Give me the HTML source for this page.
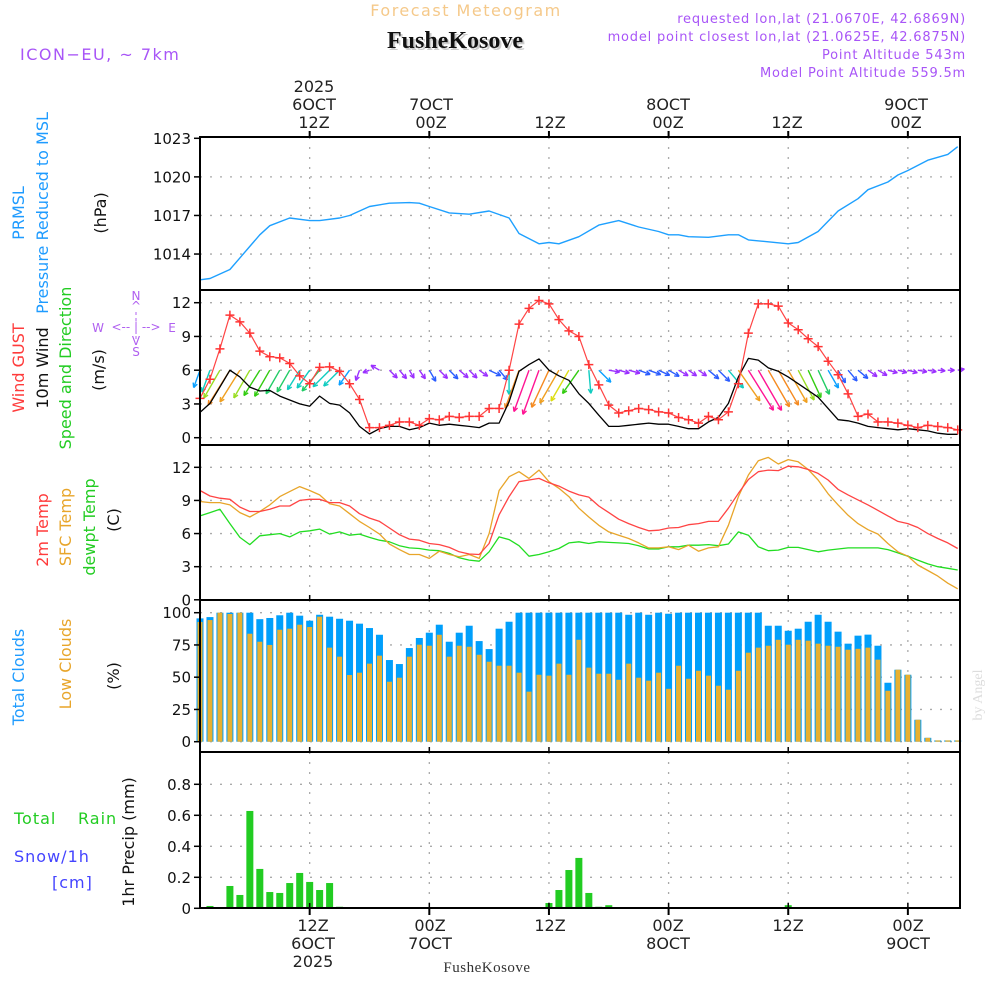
<!DOCTYPE html>
<html><head><meta charset="utf-8"><style>
html,body{margin:0;padding:0;background:#fff;}
svg{display:block;font-family:"DejaVu Sans","Liberation Sans",sans-serif;}
</style></head><body>
<svg id="chart" width="1000" height="1000" viewBox="0 0 1000 1000" xmlns="http://www.w3.org/2000/svg">
<rect x="0" y="0" width="1000" height="1000" fill="#fff"/>
<g id="texts">
<text x="466" y="16" text-anchor="middle" font-size="16" fill="#f5c98a" letter-spacing="1.5">Forecast Meteogram</text>
<text x="455" y="48" text-anchor="middle" font-size="24" font-weight="bold" font-family="Liberation Serif, serif" fill="#ccc" dx="2" dy="2">FusheKosove</text>
<text x="455" y="48" text-anchor="middle" font-size="24" font-weight="bold" font-family="Liberation Serif, serif" fill="#111">FusheKosove</text>
<text x="20" y="60" font-size="16" fill="#a855f7" letter-spacing="1.5">ICON−EU, ~ 7km</text>
<g font-size="13" fill="#a855f7" text-anchor="end" letter-spacing="0.8">
<text x="966" y="23">requested lon,lat (21.0670E, 42.6869N)</text>
<text x="966" y="41">model point closest lon,lat (21.0625E, 42.6875N)</text>
<text x="966" y="59">Point Altitude 543m</text>
<text x="966" y="77">Model Point Altitude 559.5m</text>
</g>
<g font-size="16" fill="#222" text-anchor="middle">
<text x="314" y="92">2025</text>
<text x="314" y="110">6OCT</text>
<text x="314" y="128">12Z</text>
<text x="431" y="110">7OCT</text>
<text x="431" y="128">00Z</text>
<text x="550" y="128">12Z</text>
<text x="668" y="110">8OCT</text>
<text x="668" y="128">00Z</text>
<text x="787" y="128">12Z</text>
<text x="906" y="110">9OCT</text>
<text x="906" y="128">00Z</text>
<text x="313" y="931">12Z</text>
<text x="313" y="949">6OCT</text>
<text x="313" y="967">2025</text>
<text x="430" y="931">00Z</text>
<text x="430" y="949">7OCT</text>
<text x="550" y="931">12Z</text>
<text x="668" y="931">00Z</text>
<text x="668" y="949">8OCT</text>
<text x="788" y="931">12Z</text>
<text x="908" y="931">00Z</text>
<text x="908" y="949">9OCT</text>
</g>
<text x="487" y="972" text-anchor="middle" font-size="15" font-family="Liberation Serif, serif" fill="#333" letter-spacing="0.5">FusheKosove</text>
<g font-size="16">
<text transform="translate(24,213) rotate(-90)" text-anchor="middle" fill="#1e9bff">PRMSL</text>
<text transform="translate(48,213) rotate(-90)" text-anchor="middle" fill="#1e9bff">Pressure Reduced to MSL</text>
<text transform="translate(106,213) rotate(-90)" text-anchor="middle" fill="#111">(hPa)</text>
<text transform="translate(24,368) rotate(-90)" text-anchor="middle" fill="#ff3b3b">Wind GUST</text>
<text transform="translate(48,368) rotate(-90)" text-anchor="middle" fill="#111">10m Wind</text>
<text transform="translate(71,368) rotate(-90)" text-anchor="middle" fill="#22cc22">Speed and Direction</text>
<text transform="translate(104,370) rotate(-90)" text-anchor="middle" fill="#111">(m/s)</text>
<text transform="translate(48,530) rotate(-90)" text-anchor="middle" fill="#ff3b3b">2m Temp</text>
<text transform="translate(71,527) rotate(-90)" text-anchor="middle" fill="#e8a52a">SFC Temp</text>
<text transform="translate(95,527) rotate(-90)" text-anchor="middle" fill="#22cc22">dewpt Temp</text>
<text transform="translate(119,520) rotate(-90)" text-anchor="middle" fill="#111">(C)</text>
<text transform="translate(24,677) rotate(-90)" text-anchor="middle" fill="#1e9bff">Total Clouds</text>
<text transform="translate(71,664) rotate(-90)" text-anchor="middle" fill="#e8a52a">Low Clouds</text>
<text transform="translate(119,676) rotate(-90)" text-anchor="middle" fill="#111">(%)</text>
<text transform="translate(134,842) rotate(-90)" text-anchor="middle" fill="#111">1hr Precip (mm)</text>
<text x="14" y="824" fill="#22cc22" letter-spacing="1">Total</text>
<text x="78" y="824" fill="#22cc22" letter-spacing="1">Rain</text>
<text x="14" y="862" fill="#4444ff" letter-spacing="1">Snow/1h</text>
<text x="52" y="888" fill="#4444ff" letter-spacing="1">[cm]</text>
</g>
<g font-size="12" fill="#b060f0" text-anchor="middle">
<text x="136" y="300">N</text><text x="136" y="310">^</text>
<text x="98" y="332">W</text><text x="136" y="331">&lt;-- | --&gt;</text><text x="172" y="332">E</text>
<text x="136" y="345">V</text><text x="136" y="356">S</text>
<line x1="136" y1="312" x2="136" y2="340" stroke="#b060f0" stroke-width="1" stroke-dasharray="3 3"/>
</g>
<text transform="translate(982,695) rotate(-90)" text-anchor="middle" font-size="14" font-family="Liberation Serif, serif" fill="#ddd">by Angel</text>
</g>
<g id="plot"></g>
</svg>
<script>
// ---- data (hours since 00Z 6 Oct) ----
const pressHours = [1,2,4,5,7,8,10,12,13,15,16,18,20,22,23,24,26,28,30,32,33,35,36,37,39,41,43,45,47,48,49,50,52,54,55,56,58,60,61,63,65,67,68,70,71,72,74,76,77];
const pressVals = [1012.0,1012.1,1012.8,1013.7,1015.5,1016.2,1016.8,1016.6,1016.6,1016.8,1017.0,1017.7,1017.95,1018.0,1017.95,1017.7,1017.2,1017.1,1017.35,1016.8,1015.6,1014.8,1014.9,1014.8,1015.35,1016.25,1016.6,1016.1,1015.75,1015.5,1015.5,1015.35,1015.3,1015.5,1015.5,1015.1,1014.95,1014.8,1014.9,1015.75,1017.35,1018.3,1019.0,1019.6,1020.15,1020.5,1021.3,1021.75,1022.35];
const windGust = [3.5,5.2,7.9,10.9,10.3,9.3,7.7,7.2,7.1,6.6,5.5,4.8,6.25,6.3,5.9,4.8,3.4,0.9,0.9,1.1,1.4,1.4,1.1,1.7,1.6,1.9,1.8,1.9,1.9,2.6,2.6,6.0,10.1,11.5,12.2,11.9,10.5,9.5,9.0,6.5,4.7,2.9,2.2,2.4,2.6,2.5,2.3,2.2,1.8,1.6,1.3,1.9,1.6,2.3,4.8,9.3,11.9,11.9,11.7,10.2,9.6,8.8,8.1,6.8,5.6,3.9,1.9,2.1,1.4,1.4,1.3,1.1,0.9,1.1,1.0,0.9,0.7];
const wind10 = [2.25,3.05,4.5,6.0,5.4,4.5,4.15,4.2,3.7,3.35,3.0,2.8,3.7,3.05,2.9,2.2,1.0,0.33,0.8,1.0,1.0,0.7,0.9,1.3,1.1,1.2,1.1,1.0,0.9,1.3,1.3,3.2,5.9,6.5,7.0,6.0,5.5,5.1,3.9,3.05,2.0,1.0,1.0,1.1,1.2,1.3,1.2,1.2,1.0,0.8,0.8,1.4,1.8,3.05,5.4,7.05,6.9,6.2,5.9,5.4,4.8,4.2,3.6,2.6,1.6,1.5,1.3,1.0,0.9,0.8,0.7,0.8,0.7,0.6,0.4,0.3,0.3];
const windDir = [200,200,210,212,212,210,212,210,210,210,212,215,220,225,225,215,200,250,300,135,140,150,145,150,135,135,130,135,125,115,140,180,200,200,200,205,210,210,215,175,135,100,105,105,110,110,115,120,120,125,125,130,135,140,145,148,150,150,150,150,152,155,155,150,150,140,130,125,120,105,105,105,100,100,95,90,80];
const temp2m = [9.9,9.4,9.2,9.1,8.4,8.0,8.0,8.2,8.5,8.5,9.0,9.1,9.1,8.8,8.8,8.5,7.8,7.4,7.1,6.5,5.9,5.5,5.4,5.1,5.0,4.75,4.35,4.15,4.1,5.1,7.7,9.35,10.7,10.85,11.0,10.6,10.3,9.85,9.5,9.3,8.5,7.9,7.3,6.9,6.55,6.25,6.3,6.5,6.55,6.8,6.9,7.1,7.1,8.3,9.65,10.9,11.6,11.75,11.7,12.1,12.05,11.8,11.45,10.85,10.0,9.5,9.05,8.6,8.1,7.6,7.1,6.9,6.55,6.0,5.55,5.15,4.65];
const tempSfc = [8.9,8.8,8.8,8.6,7.9,7.5,8.0,8.6,9.35,9.8,10.25,9.9,9.5,8.7,8.5,7.8,7.1,6.55,5.95,5.05,4.55,4.1,4.1,3.75,4.4,4.1,3.9,4.1,3.75,6.0,9.9,11.15,11.6,11.0,11.75,10.7,10.1,9.35,8.3,7.5,6.75,6.15,5.85,5.55,5.15,4.7,4.7,4.8,4.55,4.95,4.4,4.7,4.8,6.75,9.35,11.3,12.6,12.9,12.3,12.7,12.5,11.8,10.85,9.6,8.6,7.65,6.9,6.35,5.95,5.1,4.35,3.95,3.15,2.65,2.15,1.5,1.0];
const tempDew = [7.6,7.9,8.2,6.9,5.65,5.0,5.8,5.9,6.0,5.7,6.15,6.25,6.4,5.95,6.15,5.85,5.95,5.65,5.4,5.25,4.9,4.7,4.65,4.5,4.45,4.2,3.8,3.6,3.5,4.35,5.7,5.45,4.9,3.95,4.1,4.35,4.65,5.15,5.25,5.1,5.25,5.2,5.15,5.1,4.9,4.6,4.6,4.8,4.8,4.95,4.95,5.0,4.9,5.05,6.15,5.85,4.8,4.45,4.5,4.75,4.75,4.55,4.35,4.5,4.6,4.7,4.7,4.7,4.7,4.55,4.25,3.95,3.6,3.25,3.0,2.85,2.7];
const cloudTotal = [95.6,96.6,100,100,100,100,95,95.9,98,100,97.7,93.8,98.4,96.9,95.3,93.8,91.5,88.1,82.9,63.3,60.2,72.6,80.4,84.5,90.7,77.5,84.5,89.9,78,71.8,87.6,93,100,100,100,100,100,100,100,100,100,100,100,98.4,100,98.4,100,99.2,100,100,100,100,100,100,100,100,100,89.9,89.9,86,87.6,93,98.4,93,85.3,76,82.2,83,74.4,45.7,55.8,51.9,17,3,1,1,1];
const cloudLow = [92.8,94.3,100,99,100,83.7,77.5,75,86.8,87.6,90.7,88.9,96.9,72.9,65.9,51.7,53.5,60.5,66.7,46.5,49.6,65.9,75.2,74.4,82.9,65.9,74.4,73.6,67.4,62,58.9,58.9,53.5,38.8,51.9,51.2,60.5,51.9,79,57.4,52.7,52.7,48,60.5,49.6,47.3,53.5,41,58.9,48.8,55,51.2,43.4,40.3,55,69,72.9,74.4,79,75.2,79,78.3,76,74.4,73.6,71.3,72,72.9,63.6,39.5,55.8,51.9,17,3,1,1,1];
const precipHours = [2,4,5,6,7,8,9,10,11,12,13,14,15,36,37,38,39,40,41,42,60];
const precipVals = [0.015,0.144,0.086,0.628,0.254,0.105,0.099,0.163,0.228,0.17,0.118,0.163,0.01,0.034,0.118,0.247,0.325,0.099,0.01,0.02,0.02];
const presTicks = [1014,1017,1020,1023];
const windTicks = [0,3,6,9,12];
const tempTicks = [0,3,6,9,12];
const cloudTicks = [0,25,50,75,100];
const precipTicks = [0,0.2,0.4,0.6,0.8];
const gridHours = [12,24,36,48,60,72];

// ---- axes ----
const X0 = 200, X1 = 960;
const x = h => 200 + (h - 1) * 9.97;
const yP = v => 138.3 + (1023 - v) * 12.86;
const yW = v => 437.7 - v * 11.25;
const yT = v => 599.8 - v * 11.04;
const yC = v => 741.7 - v * 1.29;
const yR = v => 908.3 - v * 155;
const hrs = n => Array.from({length:n}, (_, i) => i + 1);

const NS = 'http://www.w3.org/2000/svg';
const plot = document.getElementById('plot');
function mk(tag, attrs, parent) {
  const el = document.createElementNS(NS, tag);
  for (const k in attrs) el.setAttribute(k, attrs[k]);
  (parent || plot).appendChild(el);
  return el;
}
function grp(name) {
  const g = mk('g', {});
  
  
  return g;
}

const panels = [
  {name:'pressure-panel', top:137, bot:290, ticks:presTicks, y:yP, fmt:v=>String(v)},
  {name:'wind-panel', top:290, bot:445, ticks:windTicks, y:yW, fmt:v=>String(v)},
  {name:'temperature-panel', top:445, bot:600, ticks:tempTicks, y:yT, fmt:v=>String(v)},
  {name:'clouds-panel', top:600, bot:752, ticks:cloudTicks, y:yC, fmt:v=>String(v)},
  {name:'precip-panel', top:752, bot:908, ticks:precipTicks, y:yR, fmt:v=>v===0?'0':v.toFixed(1)}
];

panels.forEach(p => {
  const g = grp(p.name + '-grid');
  p.ticks.forEach(t => {
    const yy = p.y(t);
    if (yy > p.top + 2 && yy < p.bot - 2) {
      const l = mk('line', {x1:X0, x2:X1, y1:yy, y2:yy, stroke:'#aaa', 'stroke-width':1.3, 'stroke-dasharray':'2 8'}, g);
      
      
    }
  });
  gridHours.forEach(h => {
    const l = mk('line', {x1:x(h), x2:x(h), y1:p.top, y2:p.bot, stroke:'#aaa', 'stroke-width':1.3, 'stroke-dasharray':'2 8'}, g);
    
    
  });
});

{
  const g = grp('cloud-bars');
  hrs(cloudTotal.length).forEach((h, i) => {
    const b = mk('rect', {x:x(h)-3.5, y:yC(cloudTotal[i]), width:7, height:yC(0)-yC(cloudTotal[i]), fill:'#009ffb'}, g);
    
    
    const b2 = mk('rect', {x:x(h)-2.5, y:yC(cloudLow[i]), width:5, height:yC(0)-yC(cloudLow[i]), fill:'#e8b030'}, g);
    
    
  });
}
{
  const g = grp('precip-bars');
  precipHours.forEach((h, i) => {
    const b = mk('rect', {x:x(h)-3.5, y:yR(precipVals[i]), width:7, height:yR(0)-yR(precipVals[i]), fill:'#22cc22'}, g);
    
    
  });
}
function line(name, hs, vals, yf, color, w) {
  const pts = hs.map((h, i) => x(h).toFixed(1) + ',' + yf(vals[i]).toFixed(1)).join(' ');
  const l = mk('polyline', {points:pts, fill:'none', stroke:color, 'stroke-width':w || 1.3, 'stroke-linejoin':'round'});
  
  
  return l;
}
line('pressure-line', pressHours, pressVals, yP, '#1ea0ff', 1.4);
line('dewpoint-line', hrs(tempDew.length), tempDew, yT, '#22dd22', 1.3);
line('sfc-temp-line', hrs(tempSfc.length), tempSfc, yT, '#e8a52a', 1.3);
line('temp-2m-line', hrs(temp2m.length), temp2m, yT, '#ff4444', 1.3);

function speedColor(s) {
  if (s < 1.2) return '#9b30ff';
  if (s < 2.0) return '#2b5cff';
  if (s < 2.7) return '#0aa0ff';
  if (s < 3.3) return '#10ccc0';
  if (s < 3.9) return '#22cc66';
  if (s < 4.4) return '#33cc11';
  if (s < 4.9) return '#99dd22';
  if (s < 5.4) return '#dddd11';
  if (s < 5.8) return '#f0a020';
  if (s < 6.4) return '#f58a20';
  return '#ff1493';
}
{
  const g = grp('wind-arrows');
  hrs(windDir.length).forEach((h, i) => {
    const s = wind10[i];
    const L = 6.0 * s + 5;
    const th = windDir[i] * Math.PI / 180;
    const x1 = x(h), y1 = yW(6);
    const x2 = x1 + L * Math.sin(th), y2 = y1 - L * Math.cos(th);
    const c = speedColor(s);
    const a = mk('g', {stroke:c, 'stroke-width':1.4, fill:'none'}, g);
    
    
    mk('line', {x1:x1, y1:y1, x2:x2, y2:y2}, a);
    const back = th + Math.PI;
    [0.45, -0.45].forEach(d => {
      mk('line', {x1:x2, y1:y2, x2:x2 + 5 * Math.sin(back + d), y2:y2 - 5 * Math.cos(back + d)}, a);
    });
  });
}
line('wind-10m-line', hrs(wind10.length), wind10, yW, '#000', 1.3);
line('wind-gust-line', hrs(windGust.length), windGust, yW, '#ff4444', 1.2);
{
  const g = grp('gust-markers');
  hrs(windGust.length).forEach((h, i) => {
    const cx = x(h), cy = yW(windGust[i]);
    const m = mk('path', {d:`M${cx-4.5},${cy}H${cx+4.5}M${cx},${cy-4.5}V${cy+4.5}`, stroke:'#ff3333', 'stroke-width':1.5}, g);
    
    
  });
}

panels.forEach(p => {
  const g = grp(p.name + '-axis');
  const r = mk('rect', {x:X0, y:p.top, width:X1-X0, height:p.bot-p.top, fill:'none', stroke:'#000', 'stroke-width':2}, g);
  
  
  p.ticks.forEach(t => {
    const yy = p.y(t);
    mk('line', {x1:X0-6, x2:X0, y1:yy, y2:yy, stroke:'#000', 'stroke-width':1.5}, g);
    const tx = mk('text', {x:X0-9, y:yy+5.5, 'text-anchor':'end', 'font-size':15, fill:'#111'}, g);
    
    
    tx.textContent = p.fmt(t);
  });
  gridHours.forEach(h => {
    mk('line', {x1:x(h), x2:x(h), y1:p.bot-5, y2:p.bot, stroke:'#000', 'stroke-width':1.5}, g);
  });
});
{
  const g = grp('x-axis-ticks');
  gridHours.forEach(h => {
    mk('line', {x1:x(h), x2:x(h), y1:908, y2:915, stroke:'#000', 'stroke-width':2}, g);
    mk('line', {x1:x(h), x2:x(h), y1:131, y2:137, stroke:'#000', 'stroke-width':2}, g);
  });
}
</script>
</body></html>
